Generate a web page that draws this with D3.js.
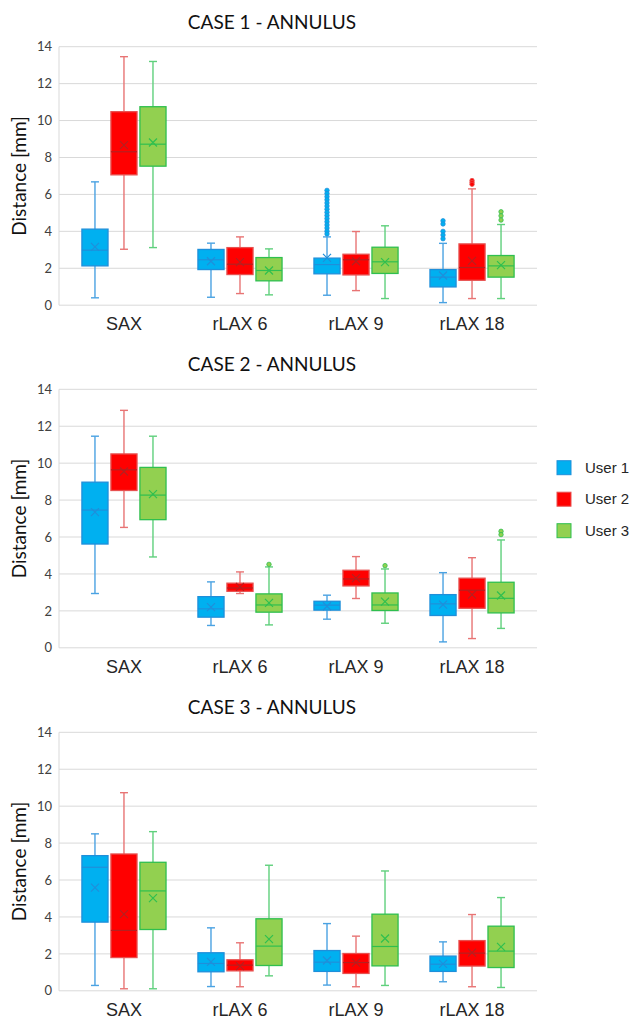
<!DOCTYPE html>
<html>
<head>
<meta charset="utf-8">
<script src="https://cdn.jsdelivr.net/npm/d3@7"></script>
<style>
  body { margin: 0; background: #fff; }
  svg { display: block; }
</style>
</head>
<body>
<svg id="figure"></svg>
<script>
var categories = ["SAX", "rLAX 6", "rLAX 9", "rLAX 18"];
var users = ["User 1", "User 2", "User 3"];
var panelTitles = ["CASE 1 - ANNULUS", "CASE 2 - ANNULUS", "CASE 3 - ANNULUS"];
var yTicks = [0, 2, 4, 6, 8, 10, 12, 14];

// each box: [min, q1, median, q3, max, mean], per category then per user
var case1 = [
    [[0.40, 2.13, 2.98, 4.12, 6.68, 3.16], [3.03, 7.06, 8.31, 10.48, 13.46, 8.67], [3.12, 7.53, 8.72, 10.75, 13.20, 8.81]],
    [[0.43, 1.93, 2.46, 3.02, 3.36, 2.38], [0.63, 1.66, 2.22, 3.12, 3.70, 2.33], [0.56, 1.32, 1.88, 2.58, 3.05, 1.88]],
    [[0.54, 1.70, 2.20, 2.55, 3.70, 2.56], [0.79, 1.64, 2.46, 2.76, 3.99, 2.38], [0.36, 1.72, 2.35, 3.14, 4.30, 2.33]],
    [[0.14, 0.99, 1.52, 1.93, 3.35, 1.61], [0.36, 1.35, 2.04, 3.32, 6.30, 2.40], [0.36, 1.52, 2.13, 2.69, 4.37, 2.17]]
];
var case2 = [
    [[2.94, 5.62, 7.46, 8.97, 11.46, 7.35], [6.52, 8.52, 9.64, 10.50, 12.86, 9.55], [4.92, 6.94, 8.27, 9.77, 11.46, 8.32]],
    [[1.21, 1.66, 2.11, 2.77, 3.57, 2.20], [2.94, 3.06, 3.24, 3.50, 4.11, 3.30], [1.24, 1.93, 2.32, 2.92, 4.38, 2.43]],
    [[1.55, 2.04, 2.31, 2.52, 2.85, 2.25], [2.67, 3.35, 3.73, 4.20, 4.94, 3.77], [1.33, 2.02, 2.32, 2.97, 4.27, 2.50]],
    [[0.32, 1.75, 2.38, 2.88, 4.07, 2.34], [0.50, 2.14, 3.12, 3.77, 4.88, 2.88], [1.05, 1.89, 2.68, 3.55, 5.84, 2.83]]
];
var case3 = [
    [[0.29, 3.72, 6.69, 7.32, 8.50, 5.59], [0.11, 1.80, 3.27, 7.41, 10.73, 4.15], [0.11, 3.32, 5.41, 6.96, 8.62, 5.02]],
    [[0.23, 1.03, 1.48, 2.06, 3.41, 1.57], [0.22, 1.08, 1.39, 1.68, 2.60, 1.34], [0.81, 1.37, 2.42, 3.90, 6.80, 2.80]],
    [[0.31, 1.05, 1.55, 2.18, 3.64, 1.64], [0.22, 0.94, 1.53, 2.02, 2.96, 1.53], [0.29, 1.35, 2.40, 4.15, 6.49, 2.83]],
    [[0.49, 1.05, 1.44, 1.88, 2.65, 1.46], [0.22, 1.34, 2.04, 2.72, 4.13, 2.07], [0.18, 1.26, 2.15, 3.50, 5.05, 2.38]]
];

// outlier points, per category then per user
var case1Outliers = [
    [[], [], []],
    [[], [], []],
    [[6.22, 6.05, 5.88, 5.71, 5.54, 5.37, 5.20, 5.03, 4.86, 4.69, 4.52, 4.35, 4.18, 4.01, 3.86], [], []],
    [[4.57, 4.40, 4.00, 3.80, 3.60], [6.75, 6.65, 6.55], [5.06, 4.84, 4.61]]
];
var case2Outliers = [
    [[], [], []],
    [[], [], [4.52]],
    [[], [], [4.45]],
    [[], [], [6.31, 6.13]]
];
var case3Outliers = [
    [[], [], []],
    [[], [], []],
    [[], [], []],
    [[], [], []]
];

var fills   = ["#00b0f0", "#ff0000", "#92d050"];
var strokes = ["#1f8fda", "#e8504f", "#2fbf4f"];
var markColors = ["#1f8fda", "#b52020", "#2fbf4f"];
var whiskerColors = ["#4aa2e2", "#e87474", "#5fd07c"];

var fullWidth = 633, fullHeight = 1020;
var plotLeft = 59, plotRight = 537;
var panelTops = [46.7, 389.3, 732.3];
var plotHeight = 258.5;

var svg = d3.select("#figure")
    .attr("width", fullWidth)
    .attr("height", fullHeight);

var xRange = d3.scaleBand().domain(categories).range([plotLeft, plotRight]).paddingOuter(0.06);
var inner = d3.scaleBand().domain(users).range([0, xRange.bandwidth()]).paddingInner(0.1).paddingOuter(0.55);

var panels = [
    {title: panelTitles[0], stats: case1, outliers: case1Outliers},
    {title: panelTitles[1], stats: case2, outliers: case2Outliers},
    {title: panelTitles[2], stats: case3, outliers: case3Outliers}
];

panels.forEach(function (panel, p) {
    var top = panelTops[p];
    var yRange = d3.scaleLinear().domain([0, 14]).range([top + plotHeight, top]);
    var g = svg.append("g");

    // gridlines
    g.append("g").selectAll("line").data(yTicks).join("line")
        .attr("x1", plotLeft).attr("x2", plotRight)
        .attr("y1", function (d) { return yRange(d); })
        .attr("y2", function (d) { return yRange(d); })
        .attr("stroke", "#d9d9d9").attr("stroke-width", 1);
    g.append("line")
        .attr("x1", plotLeft).attr("x2", plotLeft)
        .attr("y1", yRange(0)).attr("y2", yRange(14))
        .attr("stroke", "#d9d9d9");

    // y axis labels
    var yAxis = d3.axisLeft(yRange).tickValues(yTicks).tickSize(0).tickPadding(7);
    var ya = g.append("g").attr("transform", "translate(" + plotLeft + ",0)").call(yAxis);
    ya.select(".domain").remove();
    ya.selectAll("text").attr("font-family", "Lato, 'Open Sans', sans-serif")
        .attr("font-size", 13).attr("fill", "#404040");

    // x axis labels
    var xAxis = d3.axisBottom(xRange).tickSize(0).tickPadding(12);
    var xa = g.append("g").attr("transform", "translate(0," + yRange(0) + ")").call(xAxis);
    xa.select(".domain").remove();
    xa.selectAll("text").attr("font-family", "'Liberation Sans', Arial, sans-serif")
        .attr("font-size", 18).attr("fill", "#262626");

    g.append("text").text(panel.title)
        .attr("x", 272).attr("y", top - 18)
        .attr("text-anchor", "middle")
        .attr("font-family", "Lato, 'Open Sans', sans-serif")
        .attr("font-size", 19).attr("fill", "#111");

    g.append("text").text("Distance [mm]")
        .attr("transform", "translate(26," + (top + plotHeight / 2) + ") rotate(-90)")
        .attr("text-anchor", "middle")
        .attr("font-family", "Lato, 'Open Sans', sans-serif")
        .attr("font-size", 19).attr("fill", "#111");

    // boxes
    categories.forEach(function (cat, c) {
        users.forEach(function (u, k) {
            var s = panel.stats[c][k];
            var x0 = xRange(cat) + inner(u);
            var w = inner.bandwidth();
            var cx = x0 + w / 2;
            var box = g.append("g");
            var capW = 8;

            box.append("line").attr("x1", cx).attr("x2", cx)
                .attr("y1", yRange(s[0])).attr("y2", yRange(s[1]))
                .attr("stroke", whiskerColors[k]).attr("stroke-width", 1.4);
            box.append("line").attr("x1", cx).attr("x2", cx)
                .attr("y1", yRange(s[3])).attr("y2", yRange(s[4]))
                .attr("stroke", whiskerColors[k]).attr("stroke-width", 1.4);
            [s[0], s[4]].forEach(function (v) {
                box.append("line").attr("x1", cx - capW / 2).attr("x2", cx + capW / 2)
                    .attr("y1", yRange(v)).attr("y2", yRange(v))
                    .attr("stroke", whiskerColors[k]).attr("stroke-width", 1.4);
            });

            box.append("rect")
                .attr("x", x0).attr("width", w)
                .attr("y", yRange(s[3])).attr("height", yRange(s[1]) - yRange(s[3]))
                .attr("fill", fills[k]).attr("stroke", strokes[k]).attr("stroke-width", 1.3);
            box.append("line").attr("x1", x0).attr("x2", x0 + w)
                .attr("y1", yRange(s[2])).attr("y2", yRange(s[2]))
                .attr("stroke", markColors[k]).attr("stroke-width", 1.2);

            // mean marker
            var my = yRange(s[5]), m = 4;
            box.append("path")
                .attr("d", "M" + (cx - m) + "," + (my - m) + "L" + (cx + m) + "," + (my + m) +
                    "M" + (cx - m) + "," + (my + m) + "L" + (cx + m) + "," + (my - m))
                .attr("stroke", markColors[k]).attr("stroke-width", 1.2);

            box.selectAll("circle").data(panel.outliers[c][k]).join("circle")
                .attr("cx", cx).attr("cy", function (d) { return yRange(d); })
                .attr("r", 2.2)
                .attr("fill", fills[k]).attr("stroke", strokes[k]).attr("stroke-width", 0.8);
        });
    });
});

// legend
var legendY = d3.scalePoint().domain(users).range([467.7, 530.7]);
var legend = svg.append("g");
users.forEach(function (u, k) {
    legend.append("rect")
        .attr("x", 557).attr("y", legendY(u) - 7)
        .attr("width", 14).attr("height", 14)
        .attr("fill", fills[k]).attr("stroke", strokes[k]).attr("stroke-width", 1);
    legend.append("text").text(u)
        .attr("x", 585).attr("y", legendY(u) + 5)
        .attr("font-family", "'Liberation Sans', Arial, sans-serif")
        .attr("font-size", 15).attr("fill", "#262626");
});
</script>
</body>
</html>
